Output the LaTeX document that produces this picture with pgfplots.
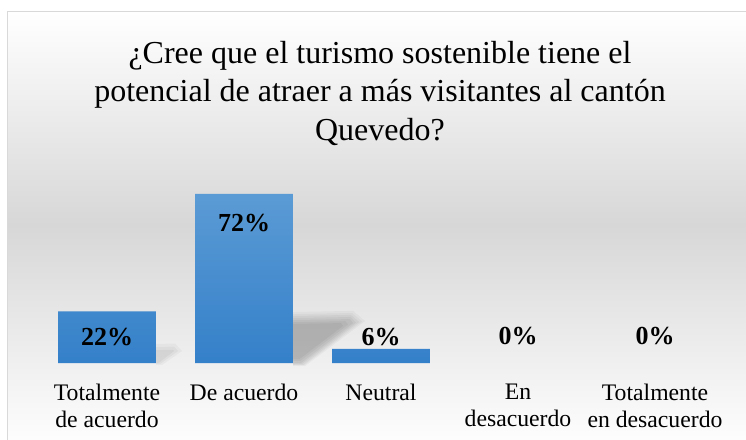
\documentclass[border=0pt]{standalone}
\usepackage{fontspec}
\setmainfont{Liberation Serif}
\usepackage{pgfplots}
\pgfplotsset{compat=1.18}

\definecolor{bartop}{RGB}{91,155,213}
\definecolor{barbot}{RGB}{52,128,201}
\definecolor{bgmid}{RGB}{215,215,215}
\definecolor{framecol}{RGB}{217,217,217}

\begin{document}
\begin{tikzpicture}
\useasboundingbox (0,0) rectangle (746bp,440bp);
\clip (0,0) rectangle (746bp,440bp);
% chart area background
\fill[top color=white, bottom color=bgmid] (7bp,215bp) rectangle (760bp,428bp);
\fill[top color=bgmid, bottom color=white] (7bp,-10bp) rectangle (760bp,215.5bp);
\draw[framecol, line width=1bp] (7bp,-10bp) rectangle (760bp,428bp);

% title
\node[anchor=north, inner sep=0pt, align=center, font=\rmfamily\fontsize{32bp}{38.5bp}\selectfont]
    at (380bp,399bp) {¿Cree que el turismo sostenible tiene el\\
    potencial de atraer a más visitantes al cantón\\Quevedo?};

\begin{axis}[
    at={(38.5bp,77bp)}, anchor=south west,
    scale only axis,
    width=685bp, height=187.8bp,
    xmin=-0.5, xmax=4.5, ymin=0, ymax=80,
    axis x line=bottom, hide y axis,
    axis line style={draw=none},
    xtick={0,1,2,3,4},
    xticklabels={{Totalmente\\de acuerdo},{De acuerdo},{Neutral},{En\\desacuerdo},{Totalmente\\en desacuerdo}},
    major tick length=0pt,
    xticklabel style={align=center, anchor=north, inner sep=0pt, yshift=-20.5bp,
        font=\rmfamily\fontsize{23.7bp}{27bp}\selectfont},
    clip=false,
]
% soft shadows behind the bars, drawn as nested translucent layers
\addplot[draw=none, fill=black, fill opacity=0.03]
    coordinates {(1.358,-1.28) (1.358,21.7) (1.796,22.2) (1.884,17.9) (1.446,-1.28)} -- cycle;
\addplot[draw=none, fill=black, fill opacity=0.035]
    coordinates {(1.358,-1.05) (1.358,20.8) (1.789,21.3) (1.862,17.7) (1.438,-1.05)} -- cycle;
\addplot[draw=none, fill=black, fill opacity=0.04]
    coordinates {(1.358,-0.85) (1.358,20.0) (1.781,20.5) (1.840,17.5) (1.431,-0.85)} -- cycle;
\addplot[draw=none, fill=black, fill opacity=0.04]
    coordinates {(1.358,-0.4) (1.358,19.1) (1.778,19.6) (1.818,17.2) (1.423,-0.4)} -- cycle;
\addplot[draw=none, fill=black, fill opacity=0.045]
    coordinates {(1.358,0) (1.358,18.3) (1.774,18.7) (1.796,17.0) (1.416,0)} -- cycle;
\addplot[draw=none, fill=black, fill opacity=0.04]
    coordinates {(1.358,0.9) (1.358,17.4) (1.740,17.8) (1.760,16.4) (1.411,0.9)} -- cycle;
\addplot[draw=none, fill=black, fill opacity=0.04]
    coordinates {(1.358,1.7) (1.358,16.6) (1.708,17.0) (1.723,15.8) (1.406,1.7)} -- cycle;
\addplot[draw=none, fill=black, fill opacity=0.03]
    coordinates {(0.358,-0.85) (0.358,8.1) (0.497,8.3) (0.548,5.1) (0.402,-0.85)} -- cycle;
\addplot[draw=none, fill=black, fill opacity=0.035]
    coordinates {(0.358,-0.43) (0.358,6.8) (0.489,7.0) (0.519,5.1) (0.387,-0.43)} -- cycle;
\addplot[draw=none, fill=black, fill opacity=0.04]
    coordinates {(0.358,0) (0.358,5.5) (0.482,5.6) (0.489,5.1) (0.376,0)} -- cycle;

% bars
\addplot[ybar, bar width=0.715, draw=none, top color=bartop, bottom color=barbot]
    coordinates {(0,22) (1,72) (2,6)};

% data labels
\addplot[draw=none, no markers, nodes near coords, point meta=explicit symbolic,
    every node near coord/.style={anchor=center, inner sep=0pt,
        font=\rmfamily\fontsize{26bp}{30bp}\selectfont\bfseries}]
    coordinates {(0,11.1) [22\%] (1,59.6) [72\%] (2,11.1) [6\%] (3,11.6) [0\%] (4,11.6) [0\%]};
\end{axis}
\end{tikzpicture}
\end{document}
